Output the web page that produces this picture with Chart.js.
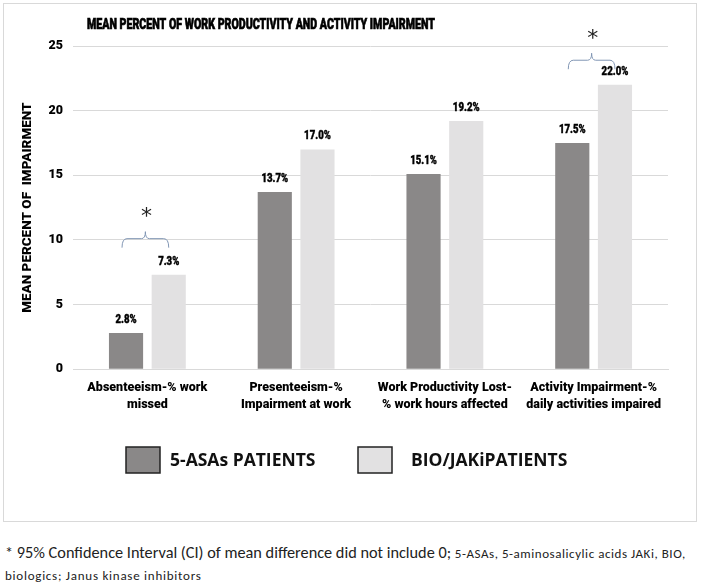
<!DOCTYPE html>
<html>
<head>
<meta charset="utf-8">
<script src="https://cdn.jsdelivr.net/npm/chart.js@4/dist/chart.umd.min.js"></script>
<style>
  body { margin: 0; background: #fff; width: 703px; height: 582px; overflow: hidden; position: relative; }
  #frame { position: absolute; left: 3px; top: 3px; width: 692px; height: 517px; border: 1px solid #d9d9d9; }
  #frame canvas { display: block; }
  #note { position: absolute; left: 5px; top: 542px; width: 698px; font-family: Carlito, 'Open Sans', sans-serif; font-size: 16.3px; line-height: 20px; color: #222; white-space: nowrap; }
  #note .small { font-size: 13px; }
  #note .wide { letter-spacing: 0.55px; }
  #note .wider { letter-spacing: 0.75px; }
</style>
</head>
<body>
<div id="frame"><canvas id="chart" width="692" height="517"></canvas></div>
<div id="note">* 95% Confidence Interval (CI) of mean difference did not include 0; <span class="small wide">5-ASAs, 5-aminosalicylic acids JAKi, BIO,</span><br><span class="small wider">biologics; Janus kinase inhibitors</span></div>
<script>
const categories = [
  ['Absenteeism-% work', 'missed'],
  ['Presenteeism-%', 'Impairment at work'],
  ['Work Productivity Lost-', '% work hours affected'],
  ['Activity Impairment-%', 'daily activities impaired'],
];
const asaValues = [2.8, 13.7, 15.1, 17.5];
const bioValues = [7.3, 17.0, 19.2, 22.0];
const yTicks = [0, 5, 10, 15, 20, 25];
// groups where the CI of the difference excluded 0, with bracket level (in %)
const significant = [0, 3];
const bracketLevel = [10.1, 23.9];

const bold = "Roboto, 'Open Sans', sans-serif";

// draw text squeezed horizontally to look like the condensed office font
const squeezed = (ctx, text, x, y, sx) => {
  ctx.save();
  ctx.translate(x, y);
  ctx.scale(sx, 1);
  ctx.strokeText(text, 0, 0);
  ctx.fillText(text, 0, 0);
  ctx.restore();
};

const titlePlugin = {
  id: 'fixedTitle',
  afterDraw(chart) {
    const { ctx } = chart;
    const text = 'MEAN PERCENT OF WORK PRODUCTIVITY AND ACTIVITY IMPAIRMENT';
    ctx.save();
    ctx.font = `900 15.5px ${bold}`;
    ctx.fillStyle = '#000';
    ctx.strokeStyle = '#000';
    ctx.lineWidth = 0.7;
    ctx.textAlign = 'center';
    ctx.textBaseline = 'middle';
    const w = ctx.measureText(text).width;
    squeezed(ctx, text, 257, 21, 348 / w);
    ctx.restore();
  },
};

const valueLabels = {
  id: 'valueLabels',
  afterDatasetsDraw(chart) {
    const { ctx } = chart;
    ctx.save();
    ctx.font = `900 12px ${bold}`;
    ctx.fillStyle = '#000';
    ctx.strokeStyle = '#000';
    ctx.lineWidth = 0.4;
    ctx.textAlign = 'center';
    ctx.textBaseline = 'bottom';
    chart.data.datasets.forEach((ds, i) => {
      chart.getDatasetMeta(i).data.forEach((bar, j) => {
        squeezed(ctx, `${ds.data[j].toFixed(1)}%`, bar.x, bar.y - 7, 0.8);
      });
    });
    ctx.restore();
  },
};

const brackets = {
  id: 'brackets',
  afterDatasetsDraw(chart) {
    const { ctx } = chart;
    const y = chart.scales.y;
    const a = chart.getDatasetMeta(0).data;
    const b = chart.getDatasetMeta(1).data;
    ctx.save();
    ctx.strokeStyle = '#8196b4';
    ctx.lineWidth = 1;
    significant.forEach((idx, k) => {
      const x1 = a[idx].x - 4;
      const x2 = b[idx].x;
      const xm = (x1 + x2) / 2;
      const yy = y.getPixelForValue(bracketLevel[k]);
      ctx.beginPath();
      ctx.moveTo(x1, yy + 9);
      ctx.quadraticCurveTo(x1, yy, x1 + 5, yy);
      ctx.lineTo(xm - 4, yy);
      ctx.quadraticCurveTo(xm, yy, xm, yy - 7);
      ctx.quadraticCurveTo(xm, yy, xm + 4, yy);
      ctx.lineTo(x2 - 5, yy);
      ctx.quadraticCurveTo(x2, yy, x2, yy + 9);
      ctx.stroke();
      ctx.fillStyle = '#222';
      ctx.font = "22px 'DejaVu Sans', sans-serif";
      ctx.textAlign = 'center';
      ctx.textBaseline = 'middle';
      ctx.fillText('*', xm + 1, yy - 21);
    });
    ctx.restore();
  },
};

// legend laid out like the office chart (box, gap, text)
const legendPlugin = {
  id: 'officeLegend',
  afterDraw(chart) {
    const { ctx } = chart;
    const starts = [122, 354];
    const gaps = [10, 19];
    ctx.save();
    ctx.font = "bold 17.5px 'Open Sans', sans-serif";
    ctx.textBaseline = 'middle';
    chart.data.datasets.forEach((ds, i) => {
      const x = starts[i];
      ctx.fillStyle = ds.backgroundColor;
      ctx.fillRect(x, 443, 34, 26);
      ctx.strokeStyle = '#222';
      ctx.lineWidth = 1.5;
      ctx.strokeRect(x, 443, 34, 26);
      ctx.fillStyle = '#111';
      ctx.fillText(ds.label, x + 34 + gaps[i], 457);
    });
    ctx.restore();
  },
};

new Chart(document.getElementById('chart'), {
  type: 'bar',
  data: {
    labels: categories,
    datasets: [
      {
        label: '5-ASAs PATIENTS',
        data: asaValues,
        backgroundColor: '#8a8888',
        categoryPercentage: 0.574,
        barPercentage: 0.8,
      },
      {
        label: 'BIO/JAKiPATIENTS',
        data: bioValues,
        backgroundColor: '#e2e1e2',
        categoryPercentage: 0.574,
        barPercentage: 0.8,
      },
    ],
  },
  plugins: [titlePlugin, valueLabels, brackets, legendPlugin],
  options: {
    responsive: false,
    animation: false,
    layout: { padding: { top: 42, left: 16, right: 28, bottom: 106 } },
    plugins: {
      title: { display: false },
      tooltip: { enabled: false },
      legend: { display: false },
    },
    scales: {
      x: {
        grid: { display: false },
        border: { display: true, color: '#d9d9d9' },
        ticks: {
          color: '#000',
          padding: 2,
          maxRotation: 0,
          autoSkip: false,
          font: { family: bold, size: 12.5, weight: 900, lineHeight: 1.35 },
        },
      },
      y: {
        min: 0,
        max: 25,
        afterBuildTicks(scale) {
          scale.ticks = yTicks.map((v) => ({ value: v }));
        },
        afterFit(scale) {
          scale.width = 53;
        },
        grid: { color: '#d9d9d9', drawTicks: false },
        border: { display: false },
        ticks: {
          color: '#000',
          padding: 10,
          font: { family: bold, size: 12.5, weight: 900 },
        },
        title: {
          display: true,
          text: 'MEAN PERCENT OF  IMPAIRMENT',
          color: '#000',
          padding: { top: 0, bottom: 5 },
          font: { family: bold, size: 13.5, weight: 900 },
        },
      },
    },
  },
});
</script>
</body>
</html>
